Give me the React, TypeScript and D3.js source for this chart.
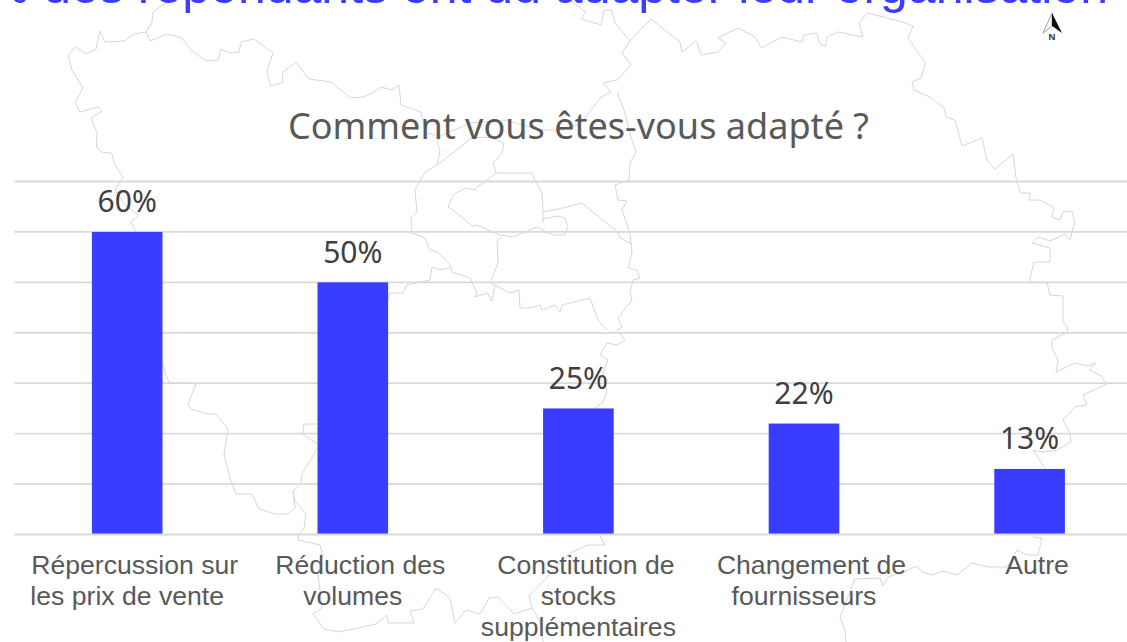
import React from "react";
import * as d3 from "d3";

const categories = ["Répercussion sur", "Réduction des", "Constitution de", "Changement de", "Autre"];
const values = [60, 50, 25, 22, 13];
const gridTicks = [10, 20, 30, 40, 50, 60, 70];
const categoryLines = [
  ["Répercussion sur", "les prix de vente"],
  ["Réduction des", "volumes"],
  ["Constitution de", "stocks", "supplémentaires"],
  ["Changement de", "fournisseurs"],
  ["Autre"],
];
const chartTitle = "70% des répondants ont dû adapter leur organisation";
const subtitle = "Comment vous êtes-vous adapté ?";

type P = [number, number];
const mapNorthWest: P[] = [[123,177],[115,165],[111.5,153],[101,152],[96.4,147],[97,133],[91,118],[102,111],[98,107],[80,112],[75.5,102],[83,88],[72,70],[68,55],[75.5,46.7],[86,54],[96,49],[100,31],[105,42],[124,41],[134,34],[146,32],[150,41],[167,34],[182,38],[191,50],[206,61],[218,60],[221,49],[230,53],[239,52],[241,42],[254,39],[273,53],[267,71],[270.5,86],[282,83],[283,72],[296,62],[309,79],[331,82],[351,98],[363,97],[374,92],[381,87],[392,90],[399,85],[401,105],[421,112],[426,133],[440,136],[471,123],[505,120],[540,130],[563,130],[581,123],[601,97],[611,92],[603,83],[617,80],[631,65],[622,53],[630,41]];
const mapNorthCut: P[] = [[146,32],[152,22],[153,12],[170,0]];
const mapNorthBranch: P[] = [[630,41],[615,23],[611.5,10],[604,10],[601,25],[581,19],[586,12],[574,3],[568,0]];
const mapNorthEast: P[] = [[630,41],[640,30],[651,19],[680,42],[682,52],[696,41],[701.5,55],[718,52],[726,43],[718,38],[738,28],[755,37],[761.5,48],[782,37],[802,42],[804,35],[816.6,33],[820,44],[825.6,46],[827,37],[838,32],[863,37],[859,23],[867,13],[899,21],[913,26],[908,38],[925.6,63],[921,78],[912,82],[914,90],[930,97],[944,108],[946,117],[955,120],[962,146],[982,138],[987,160],[995,169],[1013,154],[1016,178],[1020.5,193],[1030.6,193],[1029,200],[1040,200],[1054,208],[1052,217],[1060,220],[1063,212],[1072,211],[1074.5,223],[1070,240],[1065,234],[1050,241],[1038,237],[1032,243],[1050,248],[1050,262],[1034,262],[1029,282],[1047,283],[1050,295],[1063,296],[1063,322],[1068,327],[1067,332],[1052,340],[1052,348],[1058,360],[1056,372],[1075,363],[1088,366],[1096,363],[1089,370],[1100,375],[1107,384],[1083,395],[1087,405],[1075,407],[1063,420],[1070,433],[1071,442],[1057,450],[1043,452],[1033,450],[1045,468]];
const mapSouthEast: P[] = [[1033,537],[1042,538],[1038,555],[1027,555],[1017,550],[1007,567],[988,567],[972,563],[957,575],[943,571],[933,575],[922,572],[917,566],[903,572],[888,577],[883,586],[880,578],[855,579],[840,617],[845,630],[846,642]];
const mapSouth: P[] = [[605,545],[588,545],[570,553],[550,574],[529,596],[532,608],[514,614],[498,597],[489,598],[480,614],[466,610],[455,623],[450,598],[436,588],[423,609],[410,611],[414,623],[388,623],[387,615],[376,624],[358,628],[338,632],[324,629],[313,614],[322,608],[318,573],[322,553],[320,545],[298,540],[298.6,534],[304,528],[306,514],[295,501],[293,491],[301,484],[302,474],[317,449]];
const mapSouthTail: P[] = [[532,608],[540,621],[543,642]];
const mapSouthStub: P[] = [[605,545],[599,534]];
const mapWest: P[] = [[123,177],[115,190],[125,205],[138.5,215],[131,222],[136,232]];
const mapSouthWest: P[] = [[162.6,364],[169,383],[182,383],[196,384],[188,404],[191,409],[207,414],[216,414],[228,429],[224,454],[230,478],[236,494],[252,494],[259,509],[275,514],[288,514],[295,508],[293,491]];
const mapPocket: P[] = [[317,444],[303,434],[304,424],[317,424]];
const mapIdfOuter: P[] = [[440,136],[437,143],[440,150],[437,165],[425,172],[415,190],[417,212],[411,218],[412,233],[425,238],[430,250],[438,252],[450,265],[452,272],[470,278],[477,293],[475,297],[487,293],[492,301],[495,285],[490,283],[498,263],[497,240],[502,237]];
const mapIdfTop: P[] = [[437,165],[472,138],[490,137],[504,143],[502,153],[493,163],[496,173],[532,173],[535,180],[542,193],[543,212],[543,223]];
const mapIdfInner: P[] = [[496,173],[477,187],[475,190],[465,188],[453,195],[448,207],[462,217],[472,226],[477,225],[500,235],[513,237],[537,227],[553,235],[565,235],[568,227],[565,218],[557,216],[543,219]];
const mapCentreEast: P[] = [[543,212],[563,208],[582,203],[600,218],[618,232],[620,238],[632,244]];
const mapVertical: P[] = [[617,92],[624,110],[631,137],[636,152],[630,163],[629,180],[615,185],[618,200],[627,201],[622,210],[630,233],[632,253],[628,268],[637,270],[640,278],[633,280],[630,293],[632,300],[618,318],[622,327],[617,330],[625,340],[617,345],[607,343],[600,355],[608,360],[603,373],[607,392],[603,402],[595,408]];
const mapCentreSouth: P[] = [[495,285],[510,293],[519,290],[520,308],[530,308],[540,305],[542,310],[555,305],[560,312],[562,305],[590,298],[598,320],[607,330]];
const mapCentreWest: P[] = [[450,268],[440,270],[432,267],[430,280],[406.5,285],[403,293],[390,293],[388,300]];
const mapParts = [mapNorthWest, mapNorthCut, mapNorthBranch, mapNorthEast, mapSouthEast, mapSouth, mapSouthTail, mapSouthStub, mapWest, mapSouthWest, mapPocket, mapIdfOuter, mapIdfTop, mapIdfInner, mapCentreEast, mapVertical, mapCentreSouth, mapCentreWest];

const arrowLeft: P[] = [[1052,13],[1043,33],[1052,26]];
const arrowRight: P[] = [[1052,13],[1062,33],[1052,26]];

const BLUE = "#3a3dff";

export default function App() {
  const x = d3.scaleBand<string>().domain(categories).range([14.4, 1142.4]).paddingInner(0.687).paddingOuter(0.3435);
  const y = d3.scaleLinear().domain([0, 70]).range([534.5, 181.5]);
  const line = d3.line<P>().x((d) => d[0]).y((d) => d[1]);
  const sans = "'Liberation Sans', Arial, sans-serif";
  const noto = "'Noto Sans', sans-serif";
  return (
    <svg width={1127} height={642} viewBox="0 0 1127 642" style={{ position: "fixed", left: 0, top: 0, display: "block", background: "#fff" }}>
      <g fill="none" stroke="#d6d6d6" strokeWidth={1}>
        {mapParts.map((p, i) => (
          <path key={i} d={line(p) ?? ""} />
        ))}
      </g>
      <path d={line(arrowLeft)! + "Z"} fill="#fff" stroke="#888" strokeWidth={0.8} />
      <path d={line(arrowRight)! + "Z"} fill="#111" />
      <text x={1052} y={40} textAnchor="middle" fontFamily={sans} fontWeight={700} fontSize={9.5} fill="#333">N</text>
      <g stroke="#d9d9d9" strokeWidth={1.8}>
        {gridTicks.map((t) => (
          <line key={t} x1={14.4} x2={1127} y1={y(t)} y2={y(t)} />
        ))}
      </g>
      {categories.map((c, i) => (
        <rect key={c} x={x(c)} width={x.bandwidth()} y={y(values[i])} height={y(0) - y(values[i])} fill={BLUE} />
      ))}
      <line x1={14.4} x2={1127} y1={y(0)} y2={y(0)} stroke="#d9d9d9" strokeWidth={1.8} />
      {categories.map((c, i) => (
        <text key={c} x={x(c)! + x.bandwidth() / 2} y={y(values[i]) - 19.5} textAnchor="middle" fontFamily={noto} fontSize={30} fill="#404040">
          {values[i]}%
        </text>
      ))}
      {categories.map((c, i) =>
        categoryLines[i].map((l, j) => (
          <text key={c + j} x={x(c)! + x.bandwidth() / 2 + (j === 0 ? 7.5 : 0)} y={574 + j * 31} textAnchor="middle" fontFamily={sans} fontSize={26.6} fill="#595959">
            {l}
          </text>
        ))
      )}
      <text x={288} y={139} fontFamily={noto} fontSize={36} fill="#595959" textLength={581} lengthAdjust="spacingAndGlyphs">{subtitle}</text>
      <text x={1108} y={3} textAnchor="end" fontFamily={sans} fontSize={50} fill={BLUE}>{chartTitle}</text>
    </svg>
  );
}
